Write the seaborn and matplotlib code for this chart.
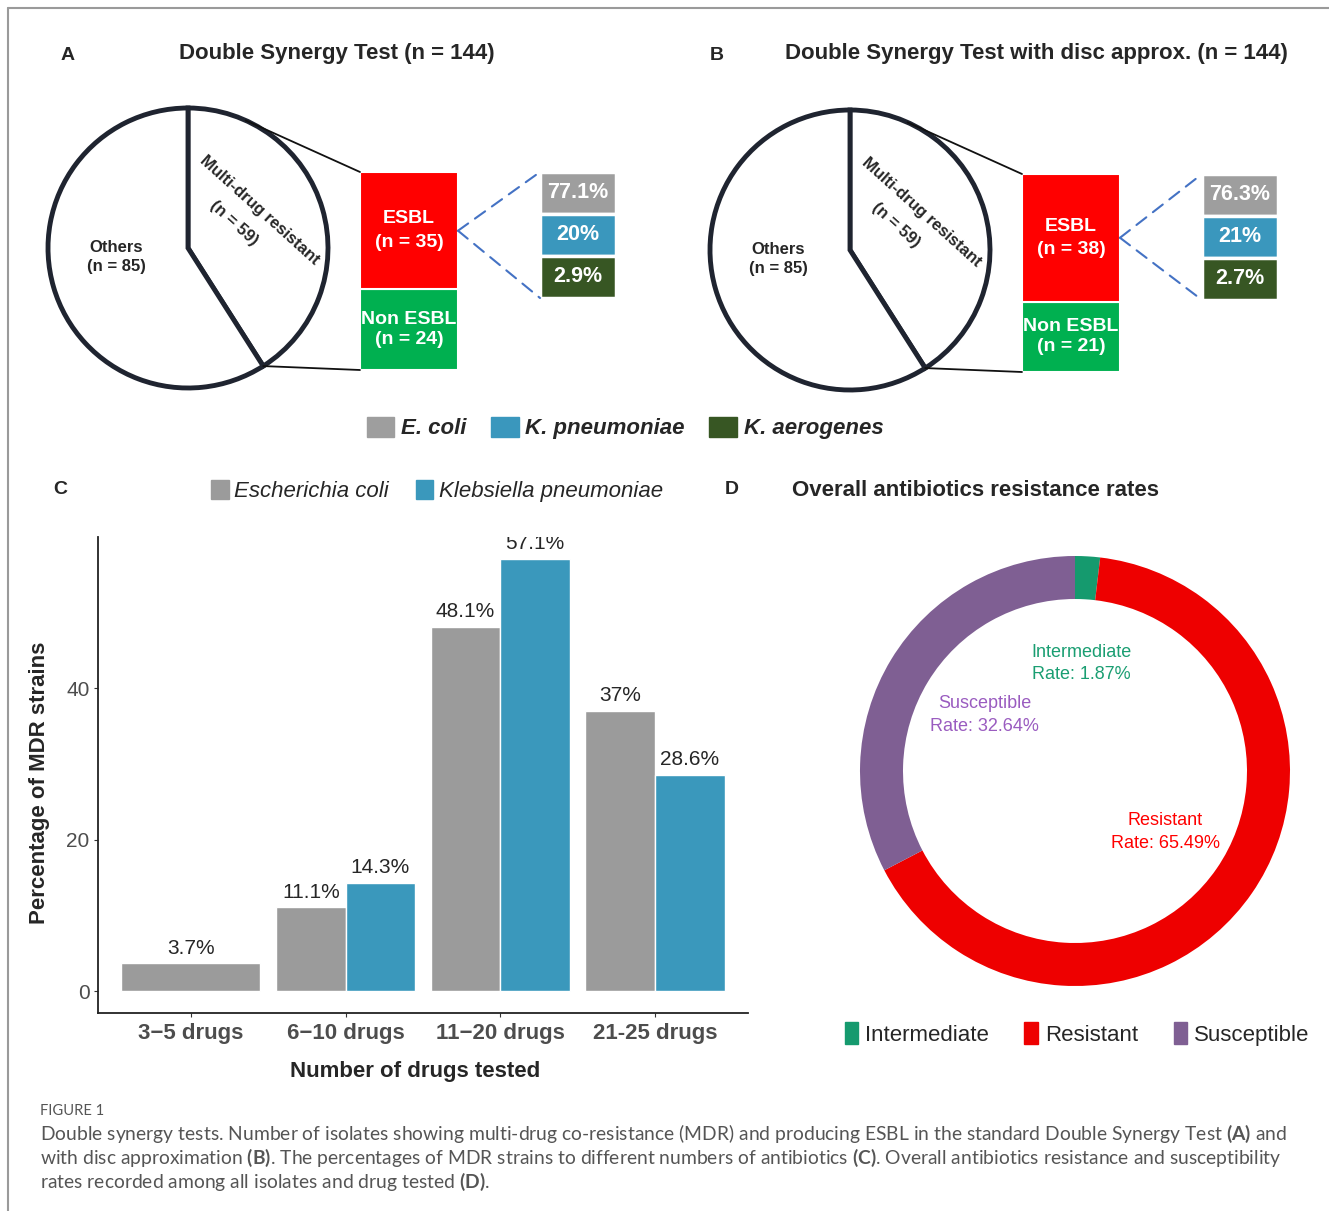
import numpy as np
import pandas as pd
import seaborn as sns
import matplotlib.pyplot as plt
from matplotlib.patches import Patch, ConnectionPatch
from matplotlib.lines import Line2D

# ---------------- data ----------------
pie_labels = ["Multi-drug resistant", "Others"]
pie_a = [59, 85]
pie_b = [59, 85]
esbl_labels = ["ESBL", "Non ESBL"]
esbl_a = [35, 24]
esbl_b = [38, 21]
species = ["E. coli", "K. pneumoniae", "K. aerogenes"]
species_pct_a = [77.1, 20, 2.9]
species_pct_b = [76.3, 21, 2.7]

drug_groups = ["3\u22125 drugs", "6\u221210 drugs", "11\u221220 drugs", "21-25 drugs"]
bar_species = ["Escherichia coli", "Klebsiella pneumoniae"]
ecoli_pct = [3.7, 11.1, 48.1, 37]
kpneu_pct = [np.nan, 14.3, 57.1, 28.6]

rate_labels = ["Intermediate", "Resistant", "Susceptible"]
rate_values = [1.87, 65.49, 32.64]

species_colors = ["#9E9E9E", "#3A97BD", "#375623"]
bar_colors = ["#9B9B9B", "#3A98BC"]
rate_colors = ["#159A6E", "#EE0000", "#7F5F93"]
rate_text_colors = ["#1A9E72", "#FF0000", "#9A5CC0"]

sns.set_style("white")
plt.rcParams["font.family"] = ["Liberation Sans", "DejaVu Sans"]
plt.rcParams["mathtext.fontset"] = "custom"
plt.rcParams["mathtext.rm"] = "Lato"
plt.rcParams["mathtext.bf"] = "Lato:bold"

W, H = 1329, 1211
fig = plt.figure(figsize=(W / 100, H / 100), dpi=100)


def px_axes(x0, y0, x1, y1):
    return fig.add_axes([x0 / W, 1 - y1 / H, (x1 - x0) / W, (y1 - y0) / H])


def ftext(x, y, s, **kw):
    kw.setdefault("ha", "center")
    kw.setdefault("va", "center")
    return fig.text(x / W, 1 - y / H, s, **kw)


def synergy_panel(dx, dy, letter, title, title_x, pie_vals, esbl_vals, pcts):
    cx, cy, r = 188 + dx, 248 + dy, 140
    ax = px_axes(cx - 154, cy - 154, cx + 154, cy + 154)
    ax.pie(pie_vals, colors=["white", "white"], startangle=90, counterclock=False,
           wedgeprops=dict(edgecolor="#1F2430", linewidth=3.5))
    lim = 154 / r
    ax.set_xlim(-lim, lim)
    ax.set_ylim(-lim, lim)
    ax.text(-0.514, -0.064, f"Others\n(n = {pie_vals[1]})", ha="center", va="center",
            fontsize=12, fontweight="bold", linespacing=1.35)
    ax.text(0.514, 0.271, pie_labels[0], rotation=-42, rotation_mode="anchor",
            ha="center", va="center", fontsize=12, fontweight="bold")
    ax.text(0.329, 0.179, f"(n = {pie_vals[0]})", rotation=-42, rotation_mode="anchor",
            ha="center", va="center", fontsize=12, fontweight="bold")

    # ESBL / Non ESBL stacked bar
    total = sum(esbl_vals)
    axb = px_axes(360 + dx, 172 + dy, 458 + dx, 370 + dy)
    axb.bar([0], [esbl_vals[1]], width=1, color="#00B050", edgecolor="white", linewidth=1.5)
    axb.bar([0], [esbl_vals[0]], bottom=[esbl_vals[1]], width=1, color="#FF0000",
            edgecolor="white", linewidth=1.5)
    axb.set_xlim(-0.5, 0.5)
    axb.set_ylim(0, total)
    axb.axis("off")
    axb.text(0, esbl_vals[1] + esbl_vals[0] / 2, f"{esbl_labels[0]}\n(n = {esbl_vals[0]})",
             ha="center", va="center", color="white", fontsize=14, fontweight="bold",
             linespacing=1.5)
    axb.text(0, esbl_vals[1] / 2, f"{esbl_labels[1]}\n(n = {esbl_vals[1]})",
             ha="center", va="center", color="white", fontsize=14, fontweight="bold",
             linespacing=1.2)

    # species cells
    n = len(pcts)
    axc = px_axes(540 + dx, 172 + dy, 616 + dx, 298 + dy)
    axc.bar([0] * n, [1] * n, bottom=list(range(n)), width=1, color=species_colors,
            edgecolor="white", linewidth=2.5)
    axc.set_xlim(-0.5, 0.5)
    axc.set_ylim(n, 0)
    axc.axis("off")
    for i, p in enumerate(pcts):
        axc.text(0, i + 0.5, f"{p:g}%", ha="center", va="center", color="white",
                 fontsize=15.5, fontweight="bold")

    # zoom lines from the pie to the bar
    to_pie = ax.transData.inverted()
    tl = to_pie.transform(axb.transData.transform((-0.5, total)))
    d = np.hypot(*tl)
    ang = np.arctan2(tl[1], tl[0]) + np.arccos(1 / d)
    end = np.deg2rad(90 - 360 * pie_vals[0] / sum(pie_vals))
    fig.add_artist(ConnectionPatch((np.cos(ang), np.sin(ang)), (-0.5, total), "data", "data",
                                   axesA=ax, axesB=axb, color="#111111", lw=1.3))
    fig.add_artist(ConnectionPatch((np.cos(end), np.sin(end)), (-0.5, 0), "data", "data",
                                   axesA=ax, axesB=axb, color="#111111", lw=1.3))
    mid = esbl_vals[1] + esbl_vals[0] / 2
    for yy in (0, n):
        fig.add_artist(ConnectionPatch((0.5, mid), (-0.5, yy), "data", "data",
                                       axesA=axb, axesB=axc, color="#4472C4", lw=1.5,
                                       linestyle=(0, (6, 4))))

    ftext(68 + dx * 0.98, 55, letter, fontsize=14, fontweight="bold")
    ftext(title_x, 54, title, fontsize=16, fontweight="bold")


synergy_panel(0, 0, "A", "Double Synergy Test (n = 144)", 337, pie_a, esbl_a, species_pct_a)
synergy_panel(662, 2, "B", "Double Synergy Test with disc approx. (n = 144)", 1036,
              pie_b, esbl_b, species_pct_b)

fig.legend(handles=[Patch(color=c) for c in species_colors], labels=species,
           loc="center", bbox_to_anchor=(625 / W, 1 - 428 / H), ncol=3, frameon=False,
           prop=dict(size=16, weight="bold", style="italic"), handlelength=1.25,
           handleheight=1.0, handletextpad=0.3, columnspacing=1.1)

# ---------------- panel C ----------------
df = pd.DataFrame({
    "group": drug_groups * 2,
    "species": [bar_species[0]] * 4 + [bar_species[1]] * 4,
    "pct": ecoli_pct + kpneu_pct,
}).dropna()

axC = px_axes(98, 537, 748, 1013)
sns.barplot(data=df, x="group", y="pct", hue="species", order=drug_groups,
            hue_order=bar_species, palette=bar_colors, width=0.9, gap=0, saturation=1,
            errorbar=None, edgecolor="white", linewidth=1, legend=False, ax=axC)
# a group with a single series fills the whole slot (as in ggplot dodge)
for i, v in enumerate(kpneu_pct):
    if np.isnan(v):
        bar = axC.containers[0][i]
        bar.set_width(bar.get_width() * 2)
for cont in axC.containers:
    labs = axC.bar_label(cont, labels=[f"{b.get_height():g}%" for b in cont],
                         padding=4, fontsize=15)
    for t in labs:
        t.set_clip_on(True)
        t.set_clip_path(axC.patch)
axC.set_xlim(-0.6, 3.6)
axC.set_ylim(-2.855, 59.955)
axC.set_yticks([0, 20, 40])
axC.set_xlabel("")
axC.set_ylabel("")
sns.despine(ax=axC)
for s in ("left", "bottom"):
    axC.spines[s].set_color("#222222")
    axC.spines[s].set_linewidth(1.3)
axC.tick_params(axis="both", length=3, width=0.8, color="#333333", colors="#4D4D4D",
                left=True, bottom=True)
axC.tick_params(axis="x", labelsize=16, pad=4)
axC.tick_params(axis="y", labelsize=15, pad=3)
for lab in axC.get_xticklabels():
    lab.set_fontweight("bold")
ftext(40, 783, "Percentage of MDR strains", rotation=90, fontsize=16, fontweight="bold")
ftext(415, 1072, "Number of drugs tested", fontsize=16, fontweight="bold")
ftext(60, 490, "C", fontsize=14, fontweight="bold")
fig.legend(handles=[Patch(color=c) for c in bar_colors], labels=bar_species,
           loc="center", bbox_to_anchor=(437 / W, 1 - 491 / H), ncol=2, frameon=False,
           prop=dict(size=16, style="italic"), handlelength=0.8, handleheight=0.9,
           handletextpad=0.25, columnspacing=1.2)

# ---------------- panel D ----------------
axD = px_axes(1075 - 230, 771 - 230, 1075 + 230, 771 + 230)
axD.pie(rate_values, colors=rate_colors, startangle=90, counterclock=False,
        wedgeprops=dict(width=0.2, linewidth=0))
axD.set_xlim(-230 / 215, 230 / 215)
axD.set_ylim(-230 / 215, 230 / 215)
label_pos = [(0.028, 0.50), (0.419, -0.284), (-0.419, 0.26)]
for lab, val, col, (x, y) in zip(rate_labels, rate_values, rate_text_colors, label_pos):
    axD.text(x, y, f"{lab}\nRate: {val:.2f}%", ha="center", va="center", color=col,
             fontsize=13, linespacing=1.45)
ftext(732, 490, "D", fontsize=14, fontweight="bold")
ftext(975, 491, "Overall antibiotics resistance rates", fontsize=16, fontweight="bold")
fig.legend(handles=[Patch(color=c) for c in rate_colors], labels=rate_labels,
           loc="center", bbox_to_anchor=(1077 / W, 1 - 1034 / H), ncol=3, frameon=False,
           prop=dict(size=16), handlelength=0.62, handleheight=1.1, handletextpad=0.3,
           columnspacing=1.6)

# ---------------- frame and caption ----------------
fig.add_artist(Line2D([8 / W, 1], [1 - 8 / H, 1 - 8 / H], color="#9A9A9A", lw=1.5))
fig.add_artist(Line2D([8 / W, 8 / W], [0, 1 - 8 / H], color="#9A9A9A", lw=1.5))

cap = dict(ha="left", family="Lato", color="#555555", fontsize=13.85)
ftext(40, 1111, "FIGURE 1", ha="left", family="Lato", color="#555555", fontsize=10.6)
ftext(40, 1134, r"Double synergy tests. Number of isolates showing multi-drug co-resistance "
      r"(MDR) and producing ESBL in the standard Double Synergy Test $\mathbf{(A)}$ and", **cap)
ftext(40, 1158, r"with disc approximation $\mathbf{(B)}$. The percentages of MDR strains to "
      r"different numbers of antibiotics $\mathbf{(C)}$. Overall antibiotics resistance and "
      r"susceptibility", **cap)
ftext(40, 1182, r"rates recorded among all isolates and drug tested $\mathbf{(D)}$.", **cap)

fig.savefig("out.png", dpi=100)
